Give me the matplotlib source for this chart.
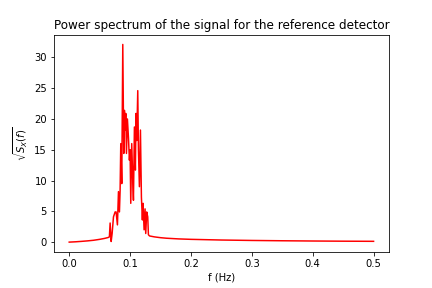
import matplotlib
matplotlib.use("Agg")
import matplotlib.pyplot as plt
import numpy as np

# smooth part below the resonance band
f_low = [0.0, 0.01, 0.02, 0.03, 0.04, 0.05, 0.058, 0.064, 0.066]
s_low = [0.0, 0.05, 0.12, 0.2, 0.3, 0.45, 0.6, 0.75, 0.85]

# spiky band
f_band = [0.0672, 0.0689, 0.0705, 0.0727, 0.0754, 0.0770, 0.0792, 0.0809,
          0.0825, 0.0836, 0.0847, 0.0863, 0.0880, 0.0896, 0.0907, 0.0918,
          0.0929, 0.0940, 0.0956, 0.0973, 0.0989, 0.1000, 0.1011, 0.1027,
          0.1044, 0.1055, 0.1071, 0.1087, 0.1098, 0.1109, 0.1126, 0.1137,
          0.1153, 0.1170, 0.1186, 0.1202, 0.1213, 0.1230, 0.1246, 0.1257,
          0.1273, 0.1290, 0.1301]
s_band = [3.1, 0.1, 1.4, 4.1, 4.9, 4.9, 2.8, 8.2,
          4.9, 8.4, 16.0, 9.5, 32.1, 14.4, 21.4, 18.2,
          20.9, 14.4, 20.0, 17.0, 13.3, 15.0, 6.3, 16.0,
          10.0, 6.8, 18.7, 11.7, 20.9, 16.5, 24.6, 15.0,
          9.0, 18.2, 7.3, 3.6, 6.3, 2.0, 5.4, 1.4,
          4.9, 4.1, 1.2]

# decaying tail
f_high = [0.132, 0.14, 0.15, 0.16, 0.18, 0.2, 0.25, 0.3, 0.35, 0.4, 0.45, 0.5]
s_high = [1.0, 0.85, 0.72, 0.63, 0.52, 0.45, 0.34, 0.27, 0.22, 0.18, 0.15, 0.13]

freqs = np.array(f_low + f_band + f_high)
spectrum = np.array(s_low + s_band + s_high)

fig, ax = plt.subplots(figsize=(6, 4), dpi=72)
fig.subplots_adjust(bottom=0.125)
ax.plot(freqs, spectrum, color='red')
ax.set_title("Power spectrum of the signal for the reference detector")
ax.set_xlabel("f (Hz)")
ax.set_ylabel(r"$\sqrt{S_X(f)}$")

plt.savefig("out.png")
